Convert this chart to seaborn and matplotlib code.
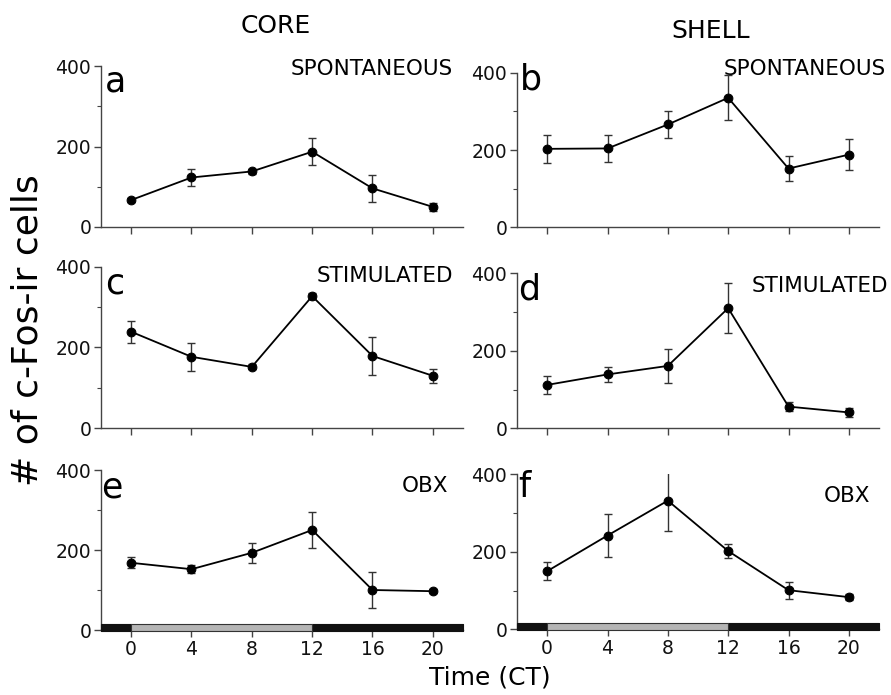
import matplotlib
matplotlib.use("Agg")
import matplotlib.pyplot as plt
import seaborn as sns
import numpy as np
import pandas as pd
from matplotlib.ticker import MultipleLocator

sns.set_style("ticks")
plt.rcParams['font.family'] = ['DejaVu Sans']
plt.rcParams['text.color'] = 'black'
plt.rcParams['xtick.labelcolor'] = '#111111'
plt.rcParams['ytick.labelcolor'] = '#111111'

# ---- data ----
times = [0, 4, 8, 12, 16, 20]
xticks = [0, 4, 8, 12, 16, 20]
yticks = [0, 200, 400]

core_spont = [67, 123, 138, 187, 96, 50]
core_spont_err = [5, 22, 6, 33, 33, 10]
shell_spont = [203, 204, 266, 335, 152, 188]
shell_spont_err = [36, 35, 35, 58, 33, 41]
core_stim = [239, 177, 152, 327, 179, 130]
core_stim_err = [27, 35, 6, 8, 46, 17]
shell_stim = [112, 139, 161, 310, 56, 41]
shell_stim_err = [23, 20, 44, 65, 12, 11]
core_obx = [168, 152, 193, 250, 100, 97]
core_obx_err = [14, 10, 25, 44, 45, 5]
shell_obx = [150, 242, 332, 202, 101, 83]
shell_obx_err = [24, 55, 78, 17, 22, 7]

col_titles = ["CORE", "SHELL"]
conditions = ["SPONTANEOUS", "STIMULATED", "OBX"]
letters = ["a", "b", "c", "d", "e", "f"]

# light/dark bars (CT)
dark1 = (-2, 2)
light = (0, 12)
dark2 = (12, 10)

W, H = 891, 695
fig = plt.figure(figsize=(W / 100, H / 100), dpi=100)

def px_axes(x0, top, x1, bottom):
    return fig.add_axes([x0 / W, 1 - bottom / H, (x1 - x0) / W, (bottom - top) / H])

panels = [
    (core_spont, core_spont_err, (101, 66, 463, 227)),
    (shell_spont, shell_spont_err, (517, 72.7, 879, 227.3)),
    (core_stim, core_stim_err, (101, 266.7, 463, 428.3)),
    (shell_stim, shell_stim_err, (517, 273.3, 879, 428.3)),
    (core_obx, core_obx_err, (101, 470, 463, 630)),
    (shell_obx, shell_obx_err, (517, 474.3, 879, 629.3)),
]

spine_col = "#444444"
for i, (vals, errs, pos) in enumerate(panels):
    ax = px_axes(*pos)
    df = pd.DataFrame({"t": times, "v": vals, "e": errs})
    ax.errorbar(df["t"], df["v"], yerr=df["e"], fmt="none", ecolor="#333333",
                elinewidth=1.0, capsize=2.8, capthick=1.0, zorder=2)
    sns.lineplot(data=df, x="t", y="v", ax=ax, color="black", linewidth=1.3,
                 marker="o", markersize=6.3, markeredgecolor="black",
                 markerfacecolor="black", zorder=3)
    ax.set_xlim(-2, 22)
    ax.set_ylim(0, 400)
    ax.set_xticks(xticks)
    ax.set_yticks(yticks)
    ax.yaxis.set_minor_locator(MultipleLocator(100))
    ax.set_xlabel("")
    ax.set_ylabel("")
    sns.despine(ax=ax)
    for s in ("left", "bottom"):
        ax.spines[s].set_color(spine_col)
        ax.spines[s].set_linewidth(1.0)
    ax.tick_params(axis="both", which="major", length=5, width=1.0,
                   color=spine_col, labelsize=13.5, pad=2)
    ax.tick_params(axis="y", which="minor", length=3, width=0.8, color=spine_col)
    if i < 4:
        ax.tick_params(axis="x", labelbottom=False)
    else:
        ax.broken_barh([dark1, dark2], (-3, 18), facecolors="#111111",
                       edgecolors="#111111", linewidth=0.8, clip_on=False, zorder=4)
        ax.broken_barh([light], (-3, 18), facecolors="#b5b5b5",
                       edgecolors="#333333", linewidth=0.8, clip_on=False, zorder=4)

# column titles
fig.text(276 / W, 1 - 33 / H, col_titles[0], fontsize=18, ha="center", va="baseline")
fig.text(711 / W, 1 - 38 / H, col_titles[1], fontsize=18, ha="center", va="baseline")

# condition labels
cond_pos = [
    (453, 75, 0), (886, 75, 0),
    (453, 282, 1), (888, 292, 1),
    (448, 492, 2), (870, 502, 2),
]
for x, y, k in cond_pos:
    fig.text(x / W, 1 - y / H, conditions[k], fontsize=15.5, ha="right", va="baseline")

# panel letters
letter_pos = [(105, 92), (520, 90), (105, 293), (518, 300), (101, 497), (518, 497)]
for (x, y), lt in zip(letter_pos, letters):
    fig.text(x / W, 1 - y / H, lt, fontsize=25, ha="left", va="baseline")

# axis labels
fig.text(28 / W, 1 - 330 / H, "# of c-Fos-ir cells", fontsize=26, rotation=90,
         ha="center", va="center")
fig.text(490 / W, 1 - 678 / H, "Time (CT)", fontsize=18, ha="center", va="center")

fig.savefig("out.png", dpi=100)
